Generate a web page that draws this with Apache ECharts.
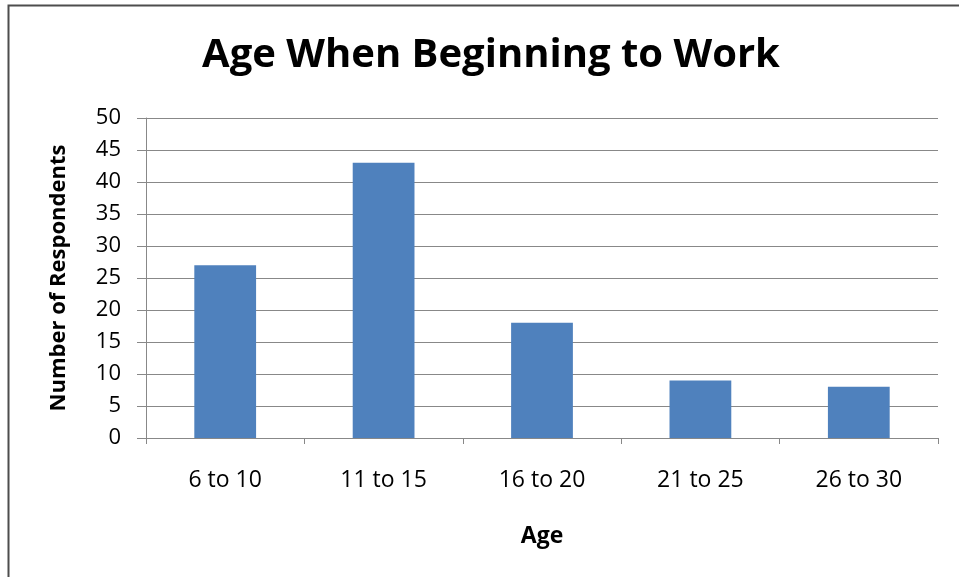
<!DOCTYPE html>
<html><head><meta charset="utf-8">
<script src="https://cdn.jsdelivr.net/npm/echarts@6/dist/echarts.min.js"></script>
<style>html,body{margin:0;padding:0;background:#fff}#c{width:959px;height:577px}</style>
</head><body><div id="c"></div>
<script>
const categories = ['6 to 10', '11 to 15', '16 to 20', '21 to 25', '26 to 30'];
const respondents = [27, 43, 18, 9, 8];
const titleText = 'Age When Beginning to Work';
const xName = 'Age';
const yName = 'Number of Respondents';
const FONT = 'Open Sans';
const chart = echarts.init(document.getElementById('c'));
chart.setOption({
  animation: false,
  backgroundColor: '#fff',
  graphic: [{type: 'rect', shape: {x: 8.5, y: 5.5, width: 1100, height: 1000},
    style: {fill: 'none', stroke: '#4d4d4d', lineWidth: 2}, silent: true}],
  title: {text: titleText, left: 486, top: 31, textAlign: 'center',
    textStyle: {fontFamily: FONT, fontWeight: 'bold', fontSize: 40, color: '#000'}},
  grid: {left: 146, right: 21, top: 118, bottom: 139},
  xAxis: {type: 'category', data: categories,
    name: xName, nameLocation: 'middle', nameGap: 87,
    nameTextStyle: {fontFamily: FONT, fontWeight: 'bold', fontSize: 23, color: '#000'},
    axisLine: {lineStyle: {color: '#888', width: 1}},
    axisTick: {show: true, alignWithLabel: false, length: 6, lineStyle: {color: '#888'}},
    axisLabel: {fontFamily: FONT, fontSize: 23, color: '#000', margin: 31},
    splitLine: {show: false}},
  yAxis: {type: 'value', min: 0, max: 50, interval: 5,
    name: yName, nameLocation: 'middle', nameGap: 76, nameRotate: 90,
    nameTextStyle: {fontFamily: FONT, fontWeight: 'bold', fontSize: 22, color: '#000'},
    axisLine: {show: true, lineStyle: {color: '#888'}},
    axisTick: {show: true, length: 9, inside: false, lineStyle: {color: '#888'}},
    axisLabel: {fontFamily: FONT, fontSize: 22, color: '#000', margin: 25},
    splitLine: {lineStyle: {color: '#888', width: 1}}},
  series: [{type: 'bar', data: respondents, barWidth: '39%',
    itemStyle: {color: '#4f81bd'}}]
});
</script></body></html>
